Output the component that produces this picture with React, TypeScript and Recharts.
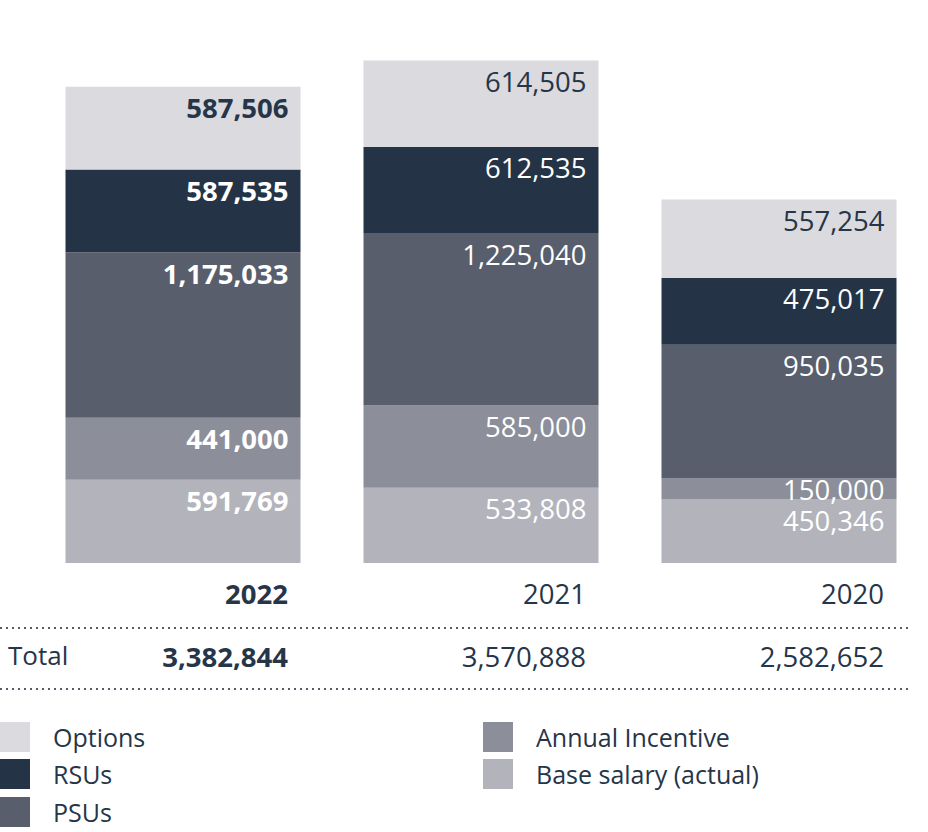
import React from "react";
import { BarChart, Bar, XAxis, YAxis, LabelList } from "recharts";

const years = ["2022", "2021", "2020"];
const baseSalary = [591769, 533808, 450346];
const annualIncentive = [441000, 585000, 150000];
const psus = [1175033, 1225040, 950035];
const rsus = [587535, 612535, 475017];
const options = [587506, 614505, 557254];
const totals = ["3,382,844", "3,570,888", "2,582,652"];

const series = [
  { key: "base", name: "Base salary (actual)", values: baseSalary, color: "#b3b4bb", text: "#ffffff" },
  { key: "annual", name: "Annual Incentive", values: annualIncentive, color: "#8c8e99", text: "#ffffff" },
  { key: "psus", name: "PSUs", values: psus, color: "#585e6c", text: "#ffffff" },
  { key: "rsus", name: "RSUs", values: rsus, color: "#243446", text: "#ffffff" },
  { key: "options", name: "Options", values: options, color: "#dadadf", text: "#263548" },
];

const legendLeft = ["options", "rsus", "psus"];
const legendRight = ["annual", "base"];

const data = years.map((year, i) => {
  const row: any = { year };
  series.forEach((s) => (row[s.key] = s.values[i]));
  return row;
});

const FONT = "'Open Sans', 'Noto Sans', sans-serif";
const INK = "#263548";
const BAR = 235;

const fmt = (v: number) => v.toLocaleString("en-US");

function makeLabel(color: string) {
  return (props: any) => {
    const { x, y, width, height, value, index } = props;
    return (
      <text
        x={x + width - 12}
        y={y + Math.min(21, height / 2)}
        textAnchor="end"
        dominantBaseline="central"
        fill={color}
        fontSize={27.5}
        fontFamily={FONT}
        fontWeight={index === 0 ? 700 : 400}
      >
        {fmt(value)}
      </text>
    );
  };
}

function YearTick(props: any) {
  const { x, y, payload, index } = props;
  const right = x + BAR / 2 - 12;
  const bold = index === 0 ? 700 : 400;
  return (
    <g fontFamily={FONT} fill={INK} fontSize={27.5}>
      <text x={right} y={y + 22} textAnchor="end" dominantBaseline="central" fontWeight={bold}>
        {payload.value}
      </text>
      <text x={right} y={y + 85} textAnchor="end" dominantBaseline="central" fontWeight={bold}>
        {totals[index]}
      </text>
      {index === 0 && (
        <text x={8} y={y + 84} dominantBaseline="central" fontSize={26}>
          Total
        </text>
      )}
    </g>
  );
}

function LegendItem({ k }: { k: string }) {
  const s = series.find((d) => d.key === k)!;
  return (
    <div style={{ display: "flex", alignItems: "center", height: 37.5 }}>
      <div style={{ width: 30, height: 30, background: s.color, marginRight: 23 }} />
      <span style={{ fontSize: 25, color: INK, fontFamily: FONT }}>{s.name}</span>
    </div>
  );
}

export default function App() {
  return (
    <div style={{ position: "absolute", left: 0, top: 0, width: 928, height: 832, background: "#fff" }}>
      <BarChart
        width={928}
        height={832}
        data={data}
        margin={{ top: 0, right: 0.5, left: 33.5, bottom: 139 }}
        barCategoryGap={0}
      >
        <XAxis dataKey="year" axisLine={false} tickLine={false} height={130} tick={<YearTick />} interval={0} />
        <YAxis hide domain={[0, 4000000]} />
        {series.map((s) => (
          <Bar key={s.key} dataKey={s.key} stackId="a" fill={s.color} barSize={BAR} isAnimationActive={false}>
            <LabelList dataKey={s.key} content={makeLabel(s.text)} />
          </Bar>
        ))}
      </BarChart>
      <svg width={928} height={832} style={{ position: "absolute", left: 0, top: 0, pointerEvents: "none" }}>
        <line x1={0} x2={908} y1={628} y2={628} stroke="#555a66" strokeWidth={2} strokeDasharray="2 4" />
        <line x1={0} x2={908} y1={689} y2={689} stroke="#555a66" strokeWidth={2} strokeDasharray="2 4" />
      </svg>
      <div style={{ position: "absolute", left: 0, top: 718, display: "flex" }}>
        <div style={{ width: 483 }}>
          {legendLeft.map((k) => (
            <LegendItem key={k} k={k} />
          ))}
        </div>
        <div>
          {legendRight.map((k) => (
            <LegendItem key={k} k={k} />
          ))}
        </div>
      </div>
    </div>
  );
}
